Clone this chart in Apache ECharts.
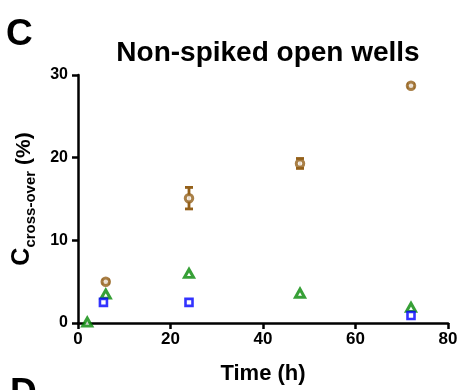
<!DOCTYPE html>
<html><head><meta charset="utf-8">
<script src="https://cdn.jsdelivr.net/npm/echarts@6/dist/echarts.min.js"></script>
<style>html,body{margin:0;padding:0;background:#fff}#c{width:461px;height:390px}</style>
</head><body><div id="c"></div>
<script>
const xTicks = [0, 20, 40, 60, 80];
const yTicks = [0, 10, 20, 30];
const brownTime = [6, 24, 48, 72];
const brownVal = [5.0, 15.1, 19.3, 28.7];
const brownErr = [0.2, 1.3, 0.6, 0.2];
const greenTime = [2, 6, 24, 48, 72];
const greenVal = [0.1, 3.5, 6.0, 3.6, 1.9];
const blueTime = [5.5, 24, 72];
const blueVal = [2.5, 2.5, 0.9];

const BROWN = '#94601A', GREEN = '#058805', BLUE = '#0000FF';
const F = '"Liberation Sans", Arial, sans-serif';

const chart = echarts.init(document.getElementById('c'), null, {renderer: 'canvas'});
const errData = brownTime.map((t, i) => [t, brownVal[i], brownErr[i]]);
chart.setOption({
  animation: false,
  backgroundColor: '#fff',
  title: {
    text: 'Non-spiked open wells', left: 263, top: 34, textAlign: 'center',
    textStyle: {fontFamily: F, fontWeight: 'bold', fontSize: 28, color: '#000'}
  },
  graphic: [
    {type: 'text', left: 6, top: 16, style: {text: 'C', font: 'bold 37px ' + F, fill: '#000'}},
    {type: 'text', left: 10, top: 375, style: {text: 'D', font: 'bold 37px ' + F, fill: '#000'}}
  ],
  grid: {left: 78, right: 13, top: 75, bottom: 67, containLabel: false},
  xAxis: {
    type: 'value', min: xTicks[0], max: xTicks[xTicks.length - 1], interval: 20,
    name: 'Time (h)', nameLocation: 'middle', nameGap: 40,
    nameTextStyle: {fontFamily: F, fontWeight: 'bold', fontSize: 22, color: '#000'},
    axisLine: {show: true, onZero: false, lineStyle: {color: '#000', width: 2.5}},
    axisTick: {show: true, length: 6, lineStyle: {color: '#000', width: 2.5}},
    axisLabel: {fontFamily: F, fontWeight: 'bold', fontSize: 17, color: '#000', margin: 8},
    splitLine: {show: false}
  },
  yAxis: {
    type: 'value', min: yTicks[0], max: yTicks[yTicks.length - 1], interval: 10,
    name: '{c|C}{s|cross-over}{p| (%)}', nameLocation: 'middle', nameGap: 43,
    nameTextStyle: {
      rich: {
        c: {fontFamily: F, fontWeight: 'bold', fontSize: 25, color: '#000', verticalAlign: 'bottom'},
        s: {fontFamily: F, fontWeight: 'bold', fontSize: 15, color: '#000', verticalAlign: 'bottom', padding: [0, 0, -3, 0]},
        p: {fontFamily: F, fontWeight: 'bold', fontSize: 21, color: '#000', verticalAlign: 'bottom'}
      }
    },
    axisLine: {show: true, onZero: false, lineStyle: {color: '#000', width: 2.5}},
    axisTick: {show: true, length: 6, lineStyle: {color: '#000', width: 2.5}},
    axisLabel: {fontFamily: F, fontWeight: 'bold', fontSize: 16, color: '#000', margin: 10},
    splitLine: {show: false}
  },
  series: [
    {
      type: 'custom', z: 3,
      data: errData,
      renderItem: function (params, api) {
        const x = api.value(0), y = api.value(1), e = api.value(2);
        const top = api.coord([x, y + e]), bot = api.coord([x, y - e]);
        const hw = 4;
        const st = {stroke: BROWN, lineWidth: 2.8, fill: null};
        return {type: 'group', children: [
          {type: 'line', shape: {x1: top[0], y1: top[1], x2: bot[0], y2: bot[1]}, style: st},
          {type: 'line', shape: {x1: top[0] - hw, y1: top[1], x2: top[0] + hw, y2: top[1]}, style: st},
          {type: 'line', shape: {x1: bot[0] - hw, y1: bot[1], x2: bot[0] + hw, y2: bot[1]}, style: st}
        ]};
      }
    },
    {
      type: 'scatter', z: 4, symbol: 'circle', symbolSize: 7.5,
      data: brownTime.map((t, i) => [t, brownVal[i]]),
      itemStyle: {color: '#fff', borderColor: BROWN, borderWidth: 3}
    },
    {
      type: 'scatter', z: 4, symbol: 'triangle', symbolSize: [9, 8],
      data: greenTime.map((t, i) => [t, greenVal[i]]),
      itemStyle: {color: '#fff', borderColor: GREEN, borderWidth: 3}
    },
    {
      type: 'scatter', z: 4, symbol: 'rect', symbolSize: 7,
      data: blueTime.map((t, i) => [t, blueVal[i]]),
      itemStyle: {color: '#fff', borderColor: BLUE, borderWidth: 2.6}
    }
  ]
});
</script></body></html>
